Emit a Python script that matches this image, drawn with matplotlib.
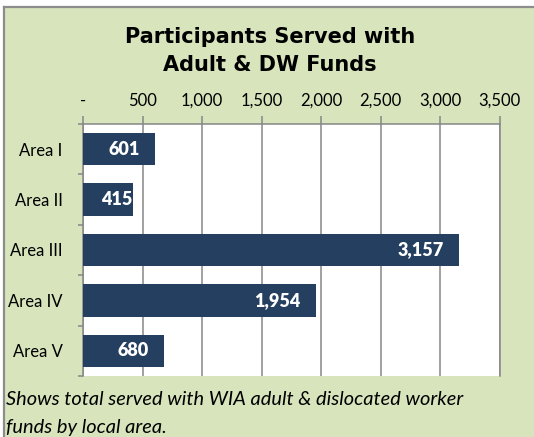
import matplotlib
matplotlib.use("Agg")
import matplotlib.pyplot as plt
from matplotlib.patches import Rectangle
from matplotlib.lines import Line2D

categories = ["Area I", "Area II", "Area III", "Area IV", "Area V"]
values = [601, 415, 3157, 1954, 680]
xticks = [0, 500, 1000, 1500, 2000, 2500, 3000, 3500]
xticklabels = ["-", "500", "1,000", "1,500", "2,000", "2,500", "3,000", "3,500"]
title = "Participants Served with\nAdult & DW Funds"
caption = "Shows total served with WIA adult & dislocated worker\nfunds by local area."

W, H = 534, 437
DPI = 100
BG = "#D8E4BC"
BAR = "#243F60"
GRID = "#878787"

fig = plt.figure(figsize=(W / DPI, H / DPI), dpi=DPI, facecolor="white")

def fx(px):
    return px / W

def fy(py):
    return 1 - py / H

# green panel with grey top/left border
fig.patches.append(Rectangle((fx(4), 0), 1 - fx(4), fy(7), transform=fig.transFigure,
                             facecolor=BG, edgecolor="none", zorder=-2))
fig.lines.append(Line2D([fx(4), fx(4)], [0, fy(7)], transform=fig.transFigure, color="#8C8C8C", lw=1.6, zorder=-1))
fig.lines.append(Line2D([fx(4), 1], [fy(7), fy(7)], transform=fig.transFigure, color="#8C8C8C", lw=1.6, zorder=-1))

left, right, top, bottom = 83.3, 499.5, 124, 376
ax = fig.add_axes([fx(left), fy(bottom), fx(right) - fx(left), (bottom - top) / H])
ax.set_zorder(2)
ax.set_facecolor("white")

y = list(range(len(categories)))
ax.barh(y, values, height=0.64, color=BAR, zorder=3)
ax.set_xlim(0, 3500)
ax.set_ylim(len(categories) - 0.5, -0.5)

ax.xaxis.tick_top()
ax.set_xticks(xticks)
ax.set_xticklabels(xticklabels, fontfamily="Lato", fontsize=12)
ax.tick_params(axis="x", direction="out", length=5.5, width=1.1, color=GRID, pad=5.5)
ax.grid(axis="x", color=GRID, lw=1.1, zorder=1)

ax.set_yticks(y)
ax.set_yticklabels(categories, fontfamily="Lato", fontsize=12)
ax.tick_params(axis="y", length=0, pad=15)
ax.set_yticks([i + 0.5 for i in range(-1, len(categories))], minor=True)
ax.tick_params(axis="y", which="minor", direction="out", length=3.5, width=1.1, color=GRID)

for s in ["bottom"]:
    ax.spines[s].set_visible(False)
for s in ["top", "left", "right"]:
    ax.spines[s].set_color(GRID)
    ax.spines[s].set_linewidth(1.1)

# bar labels: inside end
fig.canvas.draw()
r = fig.canvas.get_renderer()
x0_px = ax.transData.transform((0, 0))[0]
for i, v in enumerate(values):
    t = ax.text(v, i, f"{v:,}", ha="right", va="center", color="white",
                fontfamily="Lato", fontweight="heavy", fontsize=13, zorder=4)
    w = t.get_window_extent(renderer=r).width
    end_px = ax.transData.transform((v, i))[0]
    want = max(end_px - 15, x0_px + 18 + w)
    t.set_x(ax.transData.inverted().transform((want, 0))[0])

fig.text(fx(270), fy(51), title, ha="center", va="center", fontfamily="DejaVu Sans",
         fontweight="bold", fontsize=15, linespacing=1.55)

fig.text(fx(6), fy(413.5), caption, ha="left", va="center", fontfamily="Lato",
         fontstyle="italic", fontsize=14.4, linespacing=1.8)

fig.savefig("out.png", dpi=DPI, facecolor="white")
